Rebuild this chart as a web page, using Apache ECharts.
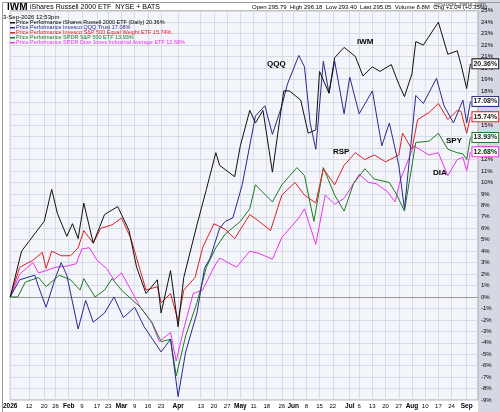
<!DOCTYPE html>
<html><head><meta charset="utf-8">
<script src="https://cdn.jsdelivr.net/npm/echarts@6/dist/echarts.min.js"></script>
<style>html,body{margin:0;padding:0;background:#fff}#c{width:500px;height:412px}</style>
</head><body><div id="c"></div>
<script>
// day offsets since 2026-01-02, and % performance
const iwmDays=[0,6,18,22,25,30,33,36,39,44,50,57,63,67,72,78,80,85,89,92,99,104,109,111,119,122,127,130,134,139,145,148,154,158,162,164,169,172,177,183,187,192,196,202,206,209,213,215,219,227,232,237,239,242,244];
const iwmVals=[0,4,6.6,9.4,7.3,5.3,6.4,5.1,8.2,4.7,7.2,7.9,5.8,2.6,0.3,1.5,-1.4,2.3,-2.6,1.7,6.3,9.4,12.6,11.5,10.5,13.2,16.3,15.2,16.3,10.9,18,18,17.2,14.3,14.6,19.7,17.8,20.9,21.8,21,19.3,20.1,19.7,20.3,18.6,17.5,19.5,22.3,22,24,21.2,21.5,20.3,18.2,20.36];
const qqqDays=[0,5,13,15,19,24,27,30,36,40,44,50,55,60,66,71,80,85,89,93,99,103,106,111,114,118,123,130,135,139,144,147,153,156,159,162,166,169,172,177,180,185,192,197,201,206,209,215,219,226,230,235,240,242,244];
const qqqVals=[0,1.5,1.9,0.9,-0.9,1.7,3,1.9,-2.8,-0.3,-2.2,-1.4,0,-1.8,-0.9,-2.6,-4.8,-3.7,-8.7,-4.8,-1.4,2.5,3.4,6,6.6,6.9,9.8,15.8,16.7,14.2,16.7,18.6,21.1,20.1,15.2,12.9,20.6,17.8,20.6,16,19.2,16,18,13.2,15.2,11.5,7.7,17.6,16.9,19.1,16.7,15.2,17.2,15.2,17.08];
const rspDays=[0,5,12,17,19,22,27,32,36,39,44,48,54,59,64,67,72,78,80,85,89,92,98,102,108,114,119,127,132,138,144,151,156,162,166,172,177,183,188,193,199,206,208,213,216,222,227,232,237,239,242,244];
const rspVals=[0,2.6,3.2,3.9,2.5,4,3.6,3.6,4.3,5.8,4.7,6,6.3,6.9,5.1,3.4,0.6,0.9,-0.5,0.3,-2.1,0.6,1.7,4.3,6.4,5.9,5.1,7.2,6.6,5.8,8.9,10,8.9,8.2,11.2,9.8,11.5,12.6,12,12.4,11.8,12.4,14.3,12.9,15.5,16.1,16.9,15.5,16.3,16.2,14.3,15.74];
const spyDays=[0,4,8,15,19,26,32,37,39,45,50,54,59,65,69,75,80,85,88,93,99,104,109,114,122,127,130,139,144,152,156,161,166,172,177,182,188,193,201,205,209,215,222,227,232,237,240,242,244];
const spyVals=[0,0,1.3,1.7,0.9,1.9,1.5,0.6,1.6,0,0.6,1.6,0.6,-0.3,-0.9,-2.2,-3.9,-3.7,-6.9,-3.4,-0.5,2.6,4.3,5.5,6.6,7.7,9.8,8.3,9.8,11.3,10.6,6.6,11.3,8.9,7.5,9.9,11.2,10.3,10,8.9,7.5,13.5,13.6,14.3,12.9,12.6,12.5,12,13.93];
const diaDays=[0,5,12,15,19,24,30,35,38,42,46,51,55,59,64,69,75,79,85,88,92,97,102,108,111,120,127,132,139,144,153,156,162,167,172,177,185,190,194,200,204,207,214,222,227,232,237,240,242,244];
const diaVals=[0,2,3,2.1,2.3,2.6,2.7,2.9,4.2,4.3,3.2,2.5,1.5,2.1,0.6,-0.9,-2.2,-3.9,-3.1,-5.6,-2.8,0.3,0.6,2.6,3.4,2.6,4,3.8,3.3,5.2,6.9,7.7,4.6,8.9,8.1,8.6,10.7,10,9.9,9.2,8.3,10.3,13.2,12.4,12.6,10.6,12,12.2,11,12.68];
const tickDates=['2026-01-02','2026-01-12','2026-01-20','2026-01-26','2026-02-02','2026-02-09','2026-02-17','2026-02-23','2026-03-02','2026-03-09','2026-03-16','2026-03-23','2026-04-01','2026-04-13','2026-04-20','2026-04-27','2026-05-04','2026-05-11','2026-05-18','2026-05-26','2026-06-01','2026-06-08','2026-06-15','2026-06-22','2026-07-01','2026-07-06','2026-07-13','2026-07-20','2026-07-27','2026-08-03','2026-08-10','2026-08-17','2026-08-24','2026-09-01'];
const tickLabels=['2026','12','20','26','Feb','9','17','23','Mar','9','16','23','Apr','13','20','27','May','11','18','26','Jun','8','15','22','Jul','6','13','20','27','Aug','10','17','24','Sep'];
const names=['IWM','QQQ','RSP','SPY','DIA'];
const colors=['#111111','#2a2a8c','#e02020','#1e7a1e','#ee33ee'];

const cats=[];
const start=Date.UTC(2026,0,2);
for(let i=0;i<=248;i++){cats.push(new Date(start+i*864e5).toISOString().slice(0,10));}
const tickIdx=new Set(tickDates.map(d=>cats.indexOf(d)));
const labelOf={};tickDates.forEach((d,i)=>labelOf[d]=tickLabels[i]);
const mk=(days,vals)=>days.map((d,i)=>[cats[d],vals[i]]);
const sets=[[iwmDays,iwmVals],[qqqDays,qqqVals],[rspDays,rspVals],[spyDays,spyVals],[diaDays,diaVals]];
const chart=echarts.init(document.getElementById('c'));
const series=sets.map((s,k)=>({type:'line',name:names[k],data:mk(s[0],s[1]),showSymbol:false,lineStyle:{width:1,color:colors[k]},itemStyle:{color:colors[k]},z:10-k,
 endLabel:{show:true,formatter:p=>p.value[1].toFixed(2)+'%',fontSize:7,fontWeight:'bold',color:'#222',backgroundColor:'#fff',borderColor:colors[k],borderWidth:1,padding:[1,1],distance:2}}));
const legendTxt=['Price Performance iShares Russell 2000 ETF (Daily) 20.36%','Price Performance Invesco QQQ Trust 17.08%','Price Performance Invesco S&P 500 Equal Weight ETF 15.74%','Price Performance SPDR S&P 500 ETF 13.93%','Price Performance SPDR Dow Jones Industrial Average ETF 12.68%'];
const g=[
 {type:'rect',left:0,top:0,shape:{width:500,height:412},style:{fill:'none',stroke:'#999',lineWidth:1},silent:true,z:100},
 {type:'rect',left:478,top:0,shape:{width:22,height:412},style:{fill:'#d3d8e2'},z:-1},
 {type:'text',left:7,top:2,style:{text:'IWM',font:'bold 10px Arial',fill:'#000'},z:50},
 {type:'text',left:30,top:4,style:{text:'iShares Russell 2000 ETF  NYSE + BATS',font:'7px Arial',fill:'#000'},z:50},
 {type:'text',left:3,top:14,style:{text:'3-Sep-2026 12:53pm',font:'6px Arial',fill:'#000'},z:50},
 {type:'text',left:252,top:4,style:{text:'Open 295.79  High 296.18  Low 293.40  Last 295.05  Volume 8.8M  Chg +1.04 (+0.35%)',font:'6px Arial',fill:'#000'},z:50},
 {type:'text',left:434,top:1,style:{text:'@StockCharts.com',font:'6px Arial',fill:'#444'},z:50},
];
legendTxt.forEach((t,i)=>{g.push({type:'rect',left:10,top:22+i*5,shape:{width:5,height:1.5},style:{fill:colors[i]},z:50});
 g.push({type:'text',left:16,top:19.5+i*5,style:{text:t,font:'5.5px Arial',fill:i==0?'#000':colors[i]},z:50});});
[['QQQ',267,60],['IWM',357,38],['RSP',333,148],['SPY',446,137],['DIA',433,169]].forEach(a=>g.push({type:'text',left:a[1],top:a[2],style:{text:a[0],font:'bold 8px Arial',fill:'#000'},z:50}));
const monthSet=new Set(['2026','Feb','Mar','Apr','May','Jun','Jul','Aug','Sep']);
chart.setOption({
 animation:false,backgroundColor:'#fff',
 grid:{left:5,right:22,top:10.75,bottom:12,show:true,backgroundColor:'#f3f5fa',borderColor:'#aaa',borderWidth:1},
 xAxis:{type:'category',data:cats,boundaryGap:false,
  axisTick:{show:false},axisLine:{show:false},
  axisLabel:{interval:(i)=>tickIdx.has(i),formatter:v=>{const l=labelOf[v]||'';return monthSet.has(l)?'{b|'+l+'}':l;},fontSize:6,color:'#000',margin:3,
   rich:{b:{fontSize:6.5,fontWeight:'bold',color:'#000'}}},
  splitLine:{show:true,interval:(i)=>tickIdx.has(i),lineStyle:{color:'#d6dbe6',width:1}}},
 yAxis:{type:'value',position:'right',min:-9,max:25,interval:1,
  axisLabel:{formatter:v=>v+'%',fontSize:6,color:'#000',margin:3},
  axisLine:{show:false},axisTick:{show:false},
  splitLine:{lineStyle:{color:'#d6dbe6',width:1}}},
 series:series.concat([{type:'line',data:[],markLine:{silent:true,symbol:'none',label:{show:false},lineStyle:{color:'#999',width:1,type:'solid'},data:[{yAxis:0}]}}]),
 graphic:g
});
</script></body></html>
